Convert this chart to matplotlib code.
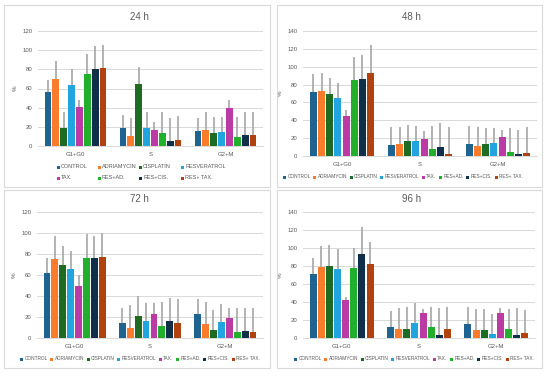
import matplotlib
matplotlib.use("Agg")
import matplotlib.pyplot as plt
from matplotlib.patches import Rectangle
import numpy as np

plt.rcParams['font.family'] = ['Liberation Sans', 'DejaVu Sans']

categories = ["G1+G0", "S", "G2+M"]
series = ["CONTROL", "ADRIAMYCIN", "CISPLATIN", "RESVERATROL", "TAX.", "RES+AD.", "RES+CIS.", "RES+ TAX."]
colors = ["#1F6391", "#F97B2C", "#1E6B24", "#22A5DE", "#BC3AA3", "#22B02C", "#0F3048", "#B0420F"]

# values[category][series], errors likewise (upper only)
vals_24 = [[56, 70, 19, 64, 41, 75, 80, 81],
           [19, 10, 65, 19, 17, 14, 5, 6],
           [16, 17, 14, 15, 40, 9, 11, 11]]
err_24 = [[13, 19, 17, 16, 7, 21, 24, 24],
          [13, 19, 17, 16, 8, 21, 24, 25],
          [13, 19, 16, 15, 8, 21, 24, 24]]
vals_48 = [[72, 73, 69, 65, 45, 85, 86, 93],
           [12, 13, 17, 17, 19, 8, 10, 2],
           [14, 11, 13, 15, 21, 5, 2, 3]]
err_48 = [[20, 20, 18, 17, 7, 26, 27, 31],
          [20, 20, 18, 17, 9, 26, 27, 30],
          [20, 21, 18, 16, 8, 26, 27, 30]]
vals_72 = [[62, 75, 70, 66, 50, 76, 76, 77],
           [14, 10, 21, 16, 23, 11, 16, 14],
           [23, 13, 8, 15, 19, 6, 7, 6]]
err_72 = [[14, 22, 18, 17, 10, 23, 21, 23],
          [15, 21, 19, 17, 10, 23, 22, 23],
          [14, 21, 19, 17, 10, 23, 22, 23]]
vals_96 = [[71, 79, 80, 77, 42, 78, 93, 82],
           [12, 10, 10, 17, 28, 12, 3, 10],
           [16, 9, 9, 4, 28, 10, 3, 6]]
err_96 = [[18, 23, 23, 22, 4, 22, 30, 25],
          [18, 23, 24, 22, 4, 22, 30, 24],
          [19, 23, 23, 23, 5, 22, 30, 25]]

titles = ["24 h", "48 h", "72 h", "96 h"]
ymaxes = [120, 140, 120, 140]

W, H = 550, 376
fig = plt.figure(figsize=(5.5, 3.76), dpi=100)
fig.patch.set_facecolor("white")

def fr(x0, y0, x1, y1):
    return [x0 / W, 1 - y1 / H, (x1 - x0) / W, (y1 - y0) / H]

# panel borders
borders = [(4, 5, 270, 187), (277, 5, 542, 187), (4, 190, 270, 368), (277, 190, 542, 368)]
for (x0, y0, x1, y1) in borders:
    fig.patches.append(Rectangle((x0 / W, 1 - y1 / H), (x1 - x0) / W, (y1 - y0) / H,
                                 transform=fig.transFigure, fill=False,
                                 edgecolor="#D9D9D9", linewidth=0.8))

axes_boxes = [(38, 31, 263, 146), (303, 31, 537, 156), (37, 212, 263, 338), (303, 212, 535, 338)]
title_y = [17, 17, 199, 199]
all_vals = [vals_24, vals_48, vals_72, vals_96]
all_errs = [err_24, err_48, err_72, err_96]

gray = "#595959"
n = len(series)
group_w = 0.84
slot = group_w / n
bw = slot * 0.86

for p in range(4):
    ax = fig.add_axes(fr(*axes_boxes[p]))
    v = np.array(all_vals[p])
    e = np.array(all_errs[p])
    x = np.arange(len(categories))
    for s in range(n):
        xs = x - group_w / 2 + slot * (s + 0.5)
        ax.bar(xs, v[:, s], width=bw, color=colors[s], zorder=3)
        ax.errorbar(xs, v[:, s], yerr=[np.zeros(len(x)), e[:, s]], fmt="none",
                    ecolor="#A6A6A6", elinewidth=1.2, capsize=0, zorder=2)
    ax.set_xlim(-0.5, len(categories) - 0.5)
    ax.set_ylim(0, ymaxes[p])
    ax.set_yticks(np.arange(0, ymaxes[p] + 1, 20))
    ax.grid(axis="y", color="#D9D9D9", linewidth=0.7, zorder=0)
    ax.set_axisbelow(True)
    for sp in ["top", "right", "left"]:
        ax.spines[sp].set_visible(False)
    ax.spines["bottom"].set_color("#D9D9D9")
    ax.spines["bottom"].set_linewidth(0.7)
    ax.set_xticks(x)
    ax.set_xticklabels(categories)
    ax.tick_params(axis="both", length=0, labelsize=4.3, colors=gray, pad=4)
    ax.set_ylabel("%", fontsize=4.5, color=gray, labelpad=3)
    bx0, _, bx1, _ = borders[p]
    fig.text(((bx0 + bx1) / 2 + 2) / W, 1 - title_y[p] / H, titles[p], ha="center", va="center",
             fontsize=7, color=gray)

renderer = fig.canvas.get_renderer()
SQ = 3.0
PAD = 1.5

def legend_entry(xm, ym, color, label, fs):
    fig.patches.append(Rectangle(((xm - SQ / 2) / W, 1 - (ym + SQ / 2) / H), SQ / W, SQ / H,
                                 transform=fig.transFigure, facecolor=color, edgecolor="none"))
    fig.text((xm + SQ / 2 + PAD) / W, 1 - ym / H, label, ha="left", va="center",
             fontsize=fs, color=gray)

# 24 h legend: 2 rows x 4 columns
col_x = [58, 99, 140, 182]
row_y = [167, 178]
for s in range(n):
    legend_entry(col_x[s % 4], row_y[s // 4], colors[s], series[s], 4.0)

# single-row legends laid out sequentially from measured text widths
def text_width(label, fs):
    t = fig.text(0, 0, label, fontsize=fs)
    w = t.get_window_extent(renderer).width
    t.remove()
    return w

fs_row = 3.45
gap = 2.4
widths = [text_width(s, fs_row) for s in series]
total = sum(SQ + PAD + w for w in widths) + gap * (n - 1)
single = {1: (403, 177), 2: (140, 359), 3: (414, 359)}
for p, (cx, yy) in single.items():
    xcur = cx - total / 2
    for s in range(n):
        legend_entry(xcur + SQ / 2, yy, colors[s], series[s], fs_row)
        xcur += SQ + PAD + widths[s] + gap

fig.savefig("out.png", dpi=100, facecolor="white")
